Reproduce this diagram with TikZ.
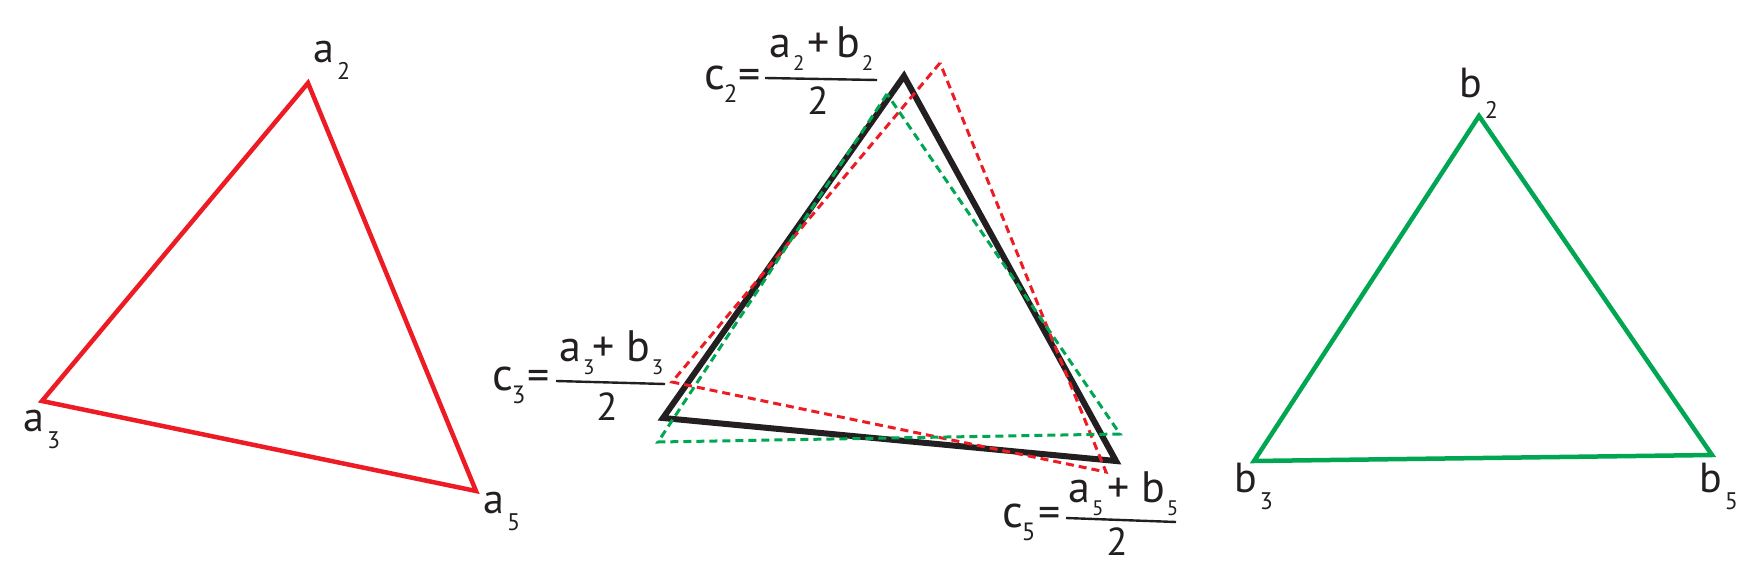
\documentclass[tikz,border=0pt]{standalone}
\usepackage{fontspec}
\setmainfont{PT Sans}
\definecolor{tred}{HTML}{ED1C24}
\definecolor{tgreen}{HTML}{00A651}
\definecolor{tblack}{HTML}{231F20}
\newcommand\sbl[1]{\kern3pt\raisebox{-17pt}{\fontsize{24}{24}\selectfont #1}}
\newcommand\sblb[1]{\kern3pt\raisebox{-21pt}{\fontsize{24}{24}\selectfont #1}}
\newcommand\sbf[1]{\kern2pt\raisebox{-13pt}{\fontsize{21}{21}\selectfont #1}}
\newcommand\sbc[1]{\kern-1pt\raisebox{-13pt}{\fontsize{25}{25}\selectfont #1}}
\begin{document}
\begin{tikzpicture}[x=1pt,y=-1pt,
  txt/.style={inner sep=0pt, anchor=base west, text=tblack},
  lab/.style={txt, font=\fontsize{42}{46}\selectfont},
  cl/.style={txt, font=\fontsize{46}{50}\selectfont},
  eqs/.style={txt, font=\fontsize{44}{48}\selectfont},
  numr/.style={txt, font=\fontsize{44}{48}\selectfont},
  denr/.style={txt, anchor=base, font=\fontsize{39}{42}\selectfont},
  fracline/.style={draw=tblack, line width=2.4pt},
  redtri/.style={draw=tred, line width=4.5pt},
  greentri/.style={draw=tgreen, line width=4.5pt},
  blacktri/.style={draw=tblack, line width=6pt},
  reddash/.style={draw=tred, line width=3pt, dash pattern=on 8pt off 5pt},
  greendash/.style={draw=tgreen, line width=3pt, dash pattern=on 8pt off 5pt}]
\useasboundingbox (0,0) rectangle (1756,569);
% vertices
\coordinate (a2) at (308,83);
\coordinate (a3) at (42,401);
\coordinate (a5) at (476,491);
\coordinate (b2) at (1479,116);
\coordinate (b3) at (1254,461);
\coordinate (b5) at (1712,455);
\coordinate (c2) at (904,76);
\coordinate (c3) at (663,418);
\coordinate (c5) at (1116,461);
\coordinate (ra2) at (940,63);
\coordinate (ra3) at (672,382);
\coordinate (ra5) at (1106,472);
\coordinate (gb2) at (887,94);
\coordinate (gb3) at (658,442);
\coordinate (gb5) at (1120,434);
% triangles
\draw[redtri] (a2) -- (a3) -- (a5) -- cycle;
\draw[greentri] (b2) -- (b3) -- (b5) -- cycle;
\draw[blacktri] (c2) -- (c3) -- (c5) -- cycle;
\draw[reddash] (ra2) -- (ra3) -- (ra5) -- cycle;
\draw[greendash] (gb2) -- (gb3) -- (gb5) -- cycle;
% vertex labels
\node[lab] (la2) at (313,63) {a\sbl{2}};
\node[lab] (la3) at (23,431) {a\sbl{3}};
\node[lab] (la5) at (483,513) {a\sbl{5}};
\node[lab] (lb2) at (1459,98) {b\sblb{2}};
\node[lab] (lb3) at (1234,492) {b\sbl{3}};
\node[lab] (lb5) at (1699,492) {b\sbl{5}};
% c2
\node[cl] (lc2) at (704,90) {c\sbc{2}};
\node[eqs] (e2) at (738,90) {=};
\coordinate (f2l) at (765,78);
\coordinate (f2r) at (877,80);
\draw[fracline] (f2l) -- (f2r);
\node[numr] (n2a) at (769,58) {a\sbf{2}};
\node[numr] (n2p) at (807,58) {+};
\node[numr] (n2b) at (836,58) {b\sbf{2}};
\node[denr] (d2) at (818,115) {2};
% c3
\node[cl] (lc3) at (492,390) {c\sbc{3}};
\node[eqs] (e3) at (527,390) {=};
\coordinate (f3l) at (556,381);
\coordinate (f3r) at (665,384);
\draw[fracline] (f3l) -- (f3r);
\node[numr] (n3a) at (559,361) {a\sbf{3}};
\node[numr] (n3p) at (592,361) {+};
\node[numr] (n3b) at (626,361) {b\sbf{3}};
\node[denr] (d3) at (607,420) {2};
% c5
\node[cl] (lc5) at (1002,527) {c\sbc{5}};
\node[eqs] (e5) at (1038,527) {=};
\coordinate (f5l) at (1066,518);
\coordinate (f5r) at (1176,522);
\draw[fracline] (f5l) -- (f5r);
\node[numr] (n5a) at (1068,502) {a\sbf{5}};
\node[numr] (n5p) at (1107,502) {+};
\node[numr] (n5b) at (1141,502) {b\sbf{5}};
\node[denr] (d5) at (1117,555) {2};
\end{tikzpicture}
\end{document}
